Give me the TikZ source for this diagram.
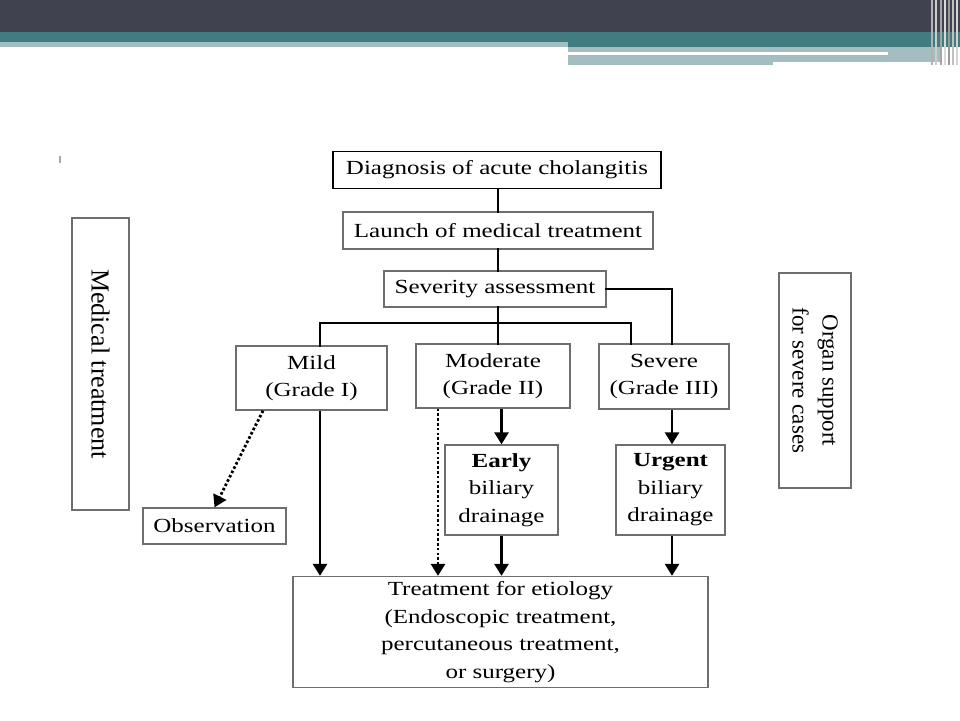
\documentclass[tikz,border=0pt]{standalone}
\usepackage{fontspec}
\setmainfont[FakeStretch=1.25]{Liberation Serif}
\newfontfamily\sidefont{Liberation Serif}
\usepackage{tikz}
\usetikzlibrary{arrows.meta}

\definecolor{bandDark}{HTML}{41424F}
\definecolor{bandTeal}{HTML}{417D80}
\definecolor{bandLight}{HTML}{A3BDC1}
\definecolor{boxGray}{HTML}{6E6E6E}

\begin{document}
\begin{tikzpicture}[
    x=1pt, y=-1pt,
    box/.style={
        rectangle,
        draw=boxGray,
        line width=1.3pt,
        inner sep=0pt,
        align=center,
        font=\fontsize{20}{27.5}\selectfont
    },
    sidebox/.style={
        box,
        rotate=-90,
        font=\sidefont\fontsize{26}{30}\selectfont
    },
    flow/.style={line width=2.6pt, line cap=rect},
    arr/.style={line width=2.6pt, -{Triangle[width=14pt,length=12pt]}},
    dotarr/.style={line width=2.8pt, dash pattern=on 2.6pt off 2.2pt,
        -{Triangle[width=14pt,length=12pt]}}
]

\useasboundingbox (0,0) rectangle (960,720);

% ------------------------------------------------------------
% Header band
% ------------------------------------------------------------

\fill[bandDark] (0,0) rectangle (960,32);
\fill[bandTeal] (0,32) rectangle (960,42);
\fill[bandLight] (0,42) rectangle (568,47);
\fill[bandTeal] (568,42) rectangle (960,47);
\fill[bandLight] (568,47) rectangle (942,62);
\fill[bandLight] (568,62) rectangle (773,65);
\fill[white] (568,52) rectangle (888,55);
\foreach \xx/\cc in {931/gray!60, 935/gray!40, 940/gray!70, 944/gray!30,
                     948/gray!80, 952/gray!50, 956/gray!35} {
    \fill[\cc] (\xx,0) rectangle ++(1.6,65);
}
\fill[gray!70] (59,156) rectangle (61,163);

% ------------------------------------------------------------
% Boxes
% ------------------------------------------------------------

\node[box, draw=black, minimum width=328pt, minimum height=37pt]
    (diagnosis) at (497,170) {Diagnosis of acute cholangitis};

\node[box, minimum width=310pt, minimum height=37pt]
    (launch) at (498,230.5) {Launch of medical treatment};

\node[box, minimum width=222pt, minimum height=36pt]
    (severity) at (495,289) {Severity assessment};

\node[box, minimum width=151pt, minimum height=64pt]
    (mild) at (311.5,378) {Mild\\(Grade I)};

\node[box, minimum width=154pt, minimum height=64pt]
    (moderate) at (493,376) {Moderate\\(Grade II)};

\node[box, minimum width=130pt, minimum height=65pt]
    (severe) at (664,376.5) {Severe\\(Grade III)};

\node[box, minimum width=113pt, minimum height=90pt]
    (early) at (501.5,490) {\textbf{Early}\\biliary\\drainage};

\node[box, minimum width=109pt, minimum height=90pt]
    (urgent) at (670.5,490) {\textbf{Urgent}\\biliary\\drainage};

\node[box, minimum width=143pt, minimum height=36pt]
    (observation) at (214.5,526) {Observation};

\node[box, minimum width=415pt, minimum height=111pt]
    (treat) at (500.5,632)
    {Treatment for etiology\\(Endoscopic treatment,\\percutaneous treatment,\\or surgery)};

\node[sidebox, minimum width=292pt, minimum height=57pt]
    (medical) at (100.5,364) {Medical treatment};

\node[sidebox, minimum width=215pt, minimum height=72pt,
      font=\sidefont\fontsize{23}{30}\selectfont]
    (organ) at (815,380.5) {Organ support\\for severe cases};

% ------------------------------------------------------------
% Helper coordinates
% ------------------------------------------------------------

\coordinate (busL) at (320,323);
\coordinate (busR) at (631,323);
\coordinate (midX) at (498,0);
\coordinate (sevX) at (672,0);
\coordinate (dotX) at (438,0);

% ------------------------------------------------------------
% Connectors
% ------------------------------------------------------------

\draw[flow] (midX |- diagnosis.south) -- (midX |- launch.north);
\draw[flow] (midX |- launch.south) -- (midX |- severity.north);
\draw[flow] (midX |- severity.south) -- (midX |- busL);
\draw[flow] (busL) -- (busR);
\draw[flow] (busL) -- (busL |- mild.north);
\draw[flow] (busR) -- (busR |- severe.north);
\draw[flow] (midX |- busL) -- (midX |- moderate.north);
\draw[flow] (severity.east) -| (sevX |- severe.north);

\draw[dotarr] ([xshift=-48.5pt]mild.south) -- (observation.north);
\draw[arr] (busL |- mild.south) -- (busL |- treat.north);

\draw[dotarr] (dotX |- moderate.south) -- (dotX |- treat.north);
\draw[arr] (moderate.south -| early.north) -- (early.north);
\draw[arr] (early.south) -- (early.south |- treat.north);

\draw[arr] (sevX |- severe.south) -- (sevX |- urgent.north);
\draw[arr] (sevX |- urgent.south) -- (sevX |- treat.north);

\end{tikzpicture}
\end{document}
